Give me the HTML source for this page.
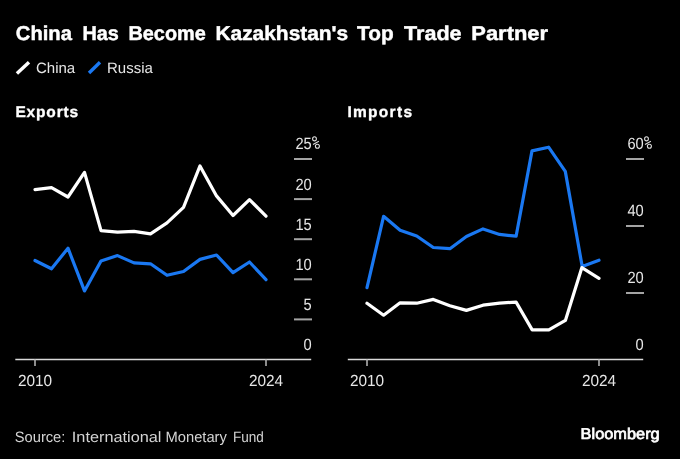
<!DOCTYPE html>
<html><head><meta charset="utf-8">
<style>
html,body{margin:0;padding:0;background:#000;}
body{width:680px;height:459px;overflow:hidden;position:relative;font-family:"Liberation Sans",sans-serif;}
svg{position:absolute;left:0;top:0;will-change:transform;}
</style></head>
<body>
<svg width="680" height="459" viewBox="0 0 680 459" font-family="Liberation Sans, sans-serif" text-rendering="geometricPrecision">
  <rect x="0" y="0" width="680" height="459" fill="#000"/>
  <!-- title -->
  <g fill="#fff" font-size="20" font-weight="bold" stroke="#fff" stroke-width="0.45">
    <text transform="translate(15.8,39.8) scale(1.01,1)">China</text>
    <text transform="translate(82.51,39.8) scale(0.991,1)">Has</text>
    <text transform="translate(128.41,39.8) scale(0.994,1)">Become</text>
    <text transform="translate(215.45,39.8) scale(1.045,1)">Kazakhstan's</text>
    <text transform="translate(357.10,39.8) scale(1.040,1)">Top</text>
    <text transform="translate(404.10,39.8) scale(1.077,1)">Trade</text>
    <text transform="translate(471.30,39.8) scale(1.096,1)">Partner</text>
  </g>
  <!-- legend -->
  <line x1="16.9" y1="73.6" x2="29" y2="62.3" stroke="#fff" stroke-width="3.4"/>
  <text x="36" y="73" fill="#e6e6e6" font-size="15">China</text>
  <line x1="89" y1="73" x2="100" y2="62.3" stroke="#1a78f2" stroke-width="3.4"/>
  <text x="107" y="73" fill="#e6e6e6" font-size="15">Russia</text>
  <!-- section labels -->
  <text x="15.4" y="117" fill="#fff" font-size="15.5" font-weight="bold" letter-spacing="0.85" stroke="#fff" stroke-width="0.35">Exports</text>
  <text x="347.4" y="117" fill="#fff" font-size="15.5" font-weight="bold" letter-spacing="1.3" stroke="#fff" stroke-width="0.35">Imports</text>

  <!-- LEFT CHART -->
  <g stroke="#a4a4a4" stroke-width="2">
    <line x1="294" y1="159" x2="312" y2="159"/>
    <line x1="294" y1="199.1" x2="312" y2="199.1"/>
    <line x1="294" y1="239.2" x2="312" y2="239.2"/>
    <line x1="294" y1="279.3" x2="312" y2="279.3"/>
    <line x1="294" y1="319.4" x2="312" y2="319.4"/>
  </g>
  <line x1="15.3" y1="359.4" x2="311.2" y2="359.4" stroke="#d9d9d9" stroke-width="1.5"/>
  <line x1="35" y1="359" x2="35" y2="366" stroke="#bbb" stroke-width="1.5"/>
  <line x1="266" y1="359" x2="266" y2="366" stroke="#bbb" stroke-width="1.5"/>
  <g fill="#e6e6e6" font-size="16.3" text-anchor="end">
    <text transform="translate(311.7,149) scale(0.9,1)" x="0" y="0">25</text>
    <text transform="translate(311.7,189.5) scale(0.9,1)" x="0" y="0">20</text>
    <text transform="translate(311.7,229.5) scale(0.9,1)" x="0" y="0">15</text>
    <text transform="translate(311.7,269.5) scale(0.9,1)" x="0" y="0">10</text>
    <text transform="translate(311.7,309.5) scale(0.9,1)" x="0" y="0">5</text>
    <text transform="translate(311.7,350) scale(0.9,1)" x="0" y="0">0</text>
  </g>
  <g transform="translate(0,0)" fill="none" stroke="#dedede" stroke-width="1.1"><ellipse cx="314.5" cy="138.8" rx="1.9" ry="2.1"/><ellipse cx="317.4" cy="146.3" rx="2" ry="2"/><line x1="313" y1="144.4" x2="318.9" y2="141.2"/></g>
  <g fill="#e6e6e6" font-size="16" text-anchor="middle">
    <text transform="translate(35,386) scale(0.96,1)" x="0" y="0">2010</text>
    <text transform="translate(266,386) scale(0.96,1)" x="0" y="0">2024</text>
  </g>
  <polyline fill="none" stroke="#1a78f2" stroke-width="3.2" stroke-linejoin="round" stroke-linecap="round"
    points="35,260.5 51.5,268.8 68,248.2 84.5,290.9 101,260.9 117.5,255.6 134,262.9 150.5,263.8 167,275.3 183.5,271.5 200,259.4 216.5,255 233,272.6 249.5,262 266,279.7"/>
  <polyline fill="none" stroke="#fff" stroke-width="3.2" stroke-linejoin="round" stroke-linecap="round"
    points="35,189.6 51.5,187.7 68,197 84.5,172.4 101,230.6 117.5,232.1 134,231.4 150.5,233.8 167,222.8 183.5,207.4 200,165.9 216.5,195.9 233,215.5 249.5,199.6 266,216.2"/>

  <!-- RIGHT CHART -->
  <g stroke="#a4a4a4" stroke-width="2">
    <line x1="626" y1="159" x2="644" y2="159"/>
    <line x1="626" y1="226" x2="644" y2="226"/>
    <line x1="626" y1="293" x2="644" y2="293"/>
  </g>
  <line x1="347.8" y1="359.4" x2="643.2" y2="359.4" stroke="#d9d9d9" stroke-width="1.5"/>
  <line x1="367" y1="359" x2="367" y2="366" stroke="#bbb" stroke-width="1.5"/>
  <line x1="599" y1="359" x2="599" y2="366" stroke="#bbb" stroke-width="1.5"/>
  <g fill="#e6e6e6" font-size="16.3" text-anchor="end">
    <text transform="translate(643.7,149) scale(0.9,1)" x="0" y="0">60</text>
    <text transform="translate(643.7,216) scale(0.9,1)" x="0" y="0">40</text>
    <text transform="translate(643.7,283) scale(0.9,1)" x="0" y="0">20</text>
    <text transform="translate(643.7,350) scale(0.9,1)" x="0" y="0">0</text>
  </g>
  <g transform="translate(332,0)" fill="none" stroke="#dedede" stroke-width="1.1"><ellipse cx="314.5" cy="138.8" rx="1.9" ry="2.1"/><ellipse cx="317.4" cy="146.3" rx="2" ry="2"/><line x1="313" y1="144.4" x2="318.9" y2="141.2"/></g>
  <g fill="#e6e6e6" font-size="16" text-anchor="middle">
    <text transform="translate(367,386) scale(0.96,1)" x="0" y="0">2010</text>
    <text transform="translate(599,386) scale(0.96,1)" x="0" y="0">2024</text>
  </g>
  <polyline fill="none" stroke="#1a78f2" stroke-width="3.2" stroke-linejoin="round" stroke-linecap="round"
    points="367,287.6 383.6,216.3 400.1,230.2 416.7,236 433.3,247.5 449.9,248.7 466.4,236.5 483,228.9 499.6,234.4 516.1,236.2 532.0,150.9 548.6,147.2 565.3,171.4 582.2,266.5 599,260.2"/>
  <polyline fill="none" stroke="#fff" stroke-width="3.2" stroke-linejoin="round" stroke-linecap="round"
    points="367,303.3 383.6,315.2 400.1,302.8 416.7,303.2 433.3,299.4 449.9,305.7 466.4,310.4 483,305.2 499.6,303.1 516.1,302.1 532.2,329.9 548.8,329.9 565.4,320.4 581.9,267.6 599,278.4"/>

  <!-- footer -->
  <g fill="#d4d4d4" font-size="15">
    <text transform="translate(14.72,441.6) scale(0.980,1)">Source:</text>
    <text transform="translate(71.81,441.6) scale(1.086,1)">International</text>
    <text transform="translate(165.52,441.6) scale(0.981,1)">Monetary</text>
    <text transform="translate(232.90,441.6) scale(0.903,1)">Fund</text>
  </g>
  <text transform="translate(580.6,439) scale(1.055,1)" fill="#fff" stroke="#fff" stroke-width="0.7" font-size="15.5">Bloomberg</text>
</svg>
</body></html>
